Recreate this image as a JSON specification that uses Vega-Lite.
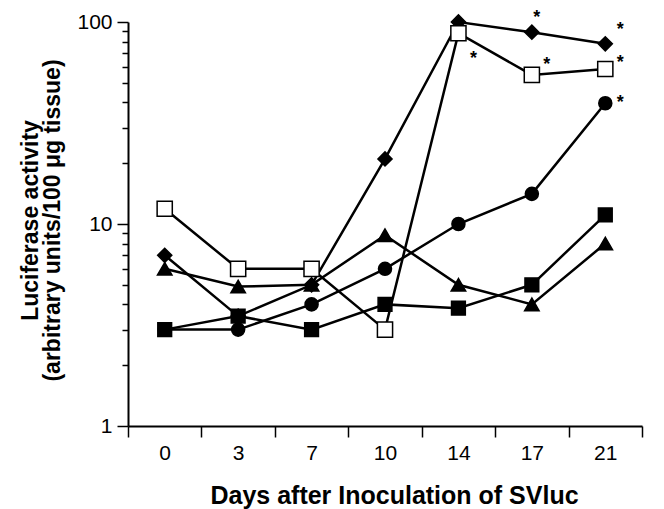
{
  "$schema": "https://vega.github.io/schema/vega-lite/v6.json",
  "width": 514,
  "height": 404,
  "autosize": {"type": "none"},
  "padding": {"left": 128, "top": 22, "right": 22, "bottom": 83},
  "background": "white",
  "config": {"view": {"stroke": null}, "font": "Liberation Sans", "axis": {"labelFontSize": 21, "labelFont": "Liberation Sans", "labelColor": "black"}},
  "datasets": {
    "obs": [
      {"series": "A", "day": 0, "value": 7.0},
      {"series": "A", "day": 3, "value": 3.5},
      {"series": "A", "day": 7, "value": 5.0},
      {"series": "A", "day": 10, "value": 21},
      {"series": "A", "day": 14, "value": 100},
      {"series": "A", "day": 17, "value": 89},
      {"series": "A", "day": 21, "value": 78},
      {"series": "B", "day": 0, "value": 11.9},
      {"series": "B", "day": 3, "value": 6.0},
      {"series": "B", "day": 7, "value": 6.0},
      {"series": "B", "day": 10, "value": 3.0},
      {"series": "B", "day": 14, "value": 88},
      {"series": "B", "day": 17, "value": 54.7},
      {"series": "B", "day": 21, "value": 58.5},
      {"series": "C", "day": 0, "value": 3.0},
      {"series": "C", "day": 3, "value": 3.0},
      {"series": "C", "day": 7, "value": 4.0},
      {"series": "C", "day": 10, "value": 6.0},
      {"series": "C", "day": 14, "value": 10.0},
      {"series": "C", "day": 17, "value": 14.1},
      {"series": "C", "day": 21, "value": 39.6},
      {"series": "D", "day": 0, "value": 3.0},
      {"series": "D", "day": 3, "value": 3.5},
      {"series": "D", "day": 7, "value": 3.0},
      {"series": "D", "day": 10, "value": 4.0},
      {"series": "D", "day": 14, "value": 3.83},
      {"series": "D", "day": 17, "value": 5.0},
      {"series": "D", "day": 21, "value": 11.1},
      {"series": "E", "day": 0, "value": 6.0},
      {"series": "E", "day": 3, "value": 4.9},
      {"series": "E", "day": 7, "value": 5.0},
      {"series": "E", "day": 10, "value": 8.8},
      {"series": "E", "day": 14, "value": 5.0},
      {"series": "E", "day": 17, "value": 4.0},
      {"series": "E", "day": 21, "value": 8.0}
    ],
    "starsNear": [
      {"day": 17, "value": 109.6}
    ],
    "starsRight": [
      {"day": 21, "value": 95.5},
      {"day": 14, "value": 68.6},
      {"day": 17, "value": 64.1},
      {"day": 21, "value": 65.6},
      {"day": 21, "value": 41.6}
    ]
  },
  "encoding": {
    "x": {
      "field": "day",
      "type": "ordinal",
      "scale": {"type": "band", "paddingInner": 0, "paddingOuter": 0, "domain": [0, 3, 7, 10, 14, 17, 21]},
      "axis": {
        "title": "Days after Inoculation of SVluc",
        "titleFontSize": 25,
        "titleFontWeight": "bold",
        "titleColor": "black",
        "titleX": 266,
        "titleY": 77,
        "titleAlign": "center",
        "titleBaseline": "alphabetic",
        "labelAngle": 0,
        "labelFontSize": 21,
        "labelColor": "black",
        "labelPadding": 5,
        "tickBand": "extent",
        "tickSize": 11,
        "tickWidth": 1.5,
        "tickColor": "black",
        "domainColor": "black",
        "domainWidth": 2,
        "grid": false
      }
    },
    "y": {
      "field": "value",
      "type": "quantitative",
      "scale": {"type": "log", "domain": [1, 100], "nice": false},
      "axis": {
        "title": ["Luciferase activity", "(arbitrary units/100 μg tissue)"],
        "titleFontSize": 23,
        "titleFontWeight": "bold",
        "titleColor": "black",
        "titleLineHeight": 22,
        "titleX": -98,
        "titleY": 198,
        "titleAngle": -90,
        "titleAlign": "center",
        "titleBaseline": "middle",
        "values": [1, 2, 3, 4, 5, 6, 7, 8, 9, 10, 20, 30, 40, 50, 60, 70, 80, 90, 100],
        "labelExpr": "indexof([1, 10, 100], datum.value) >= 0 ? datum.label : ''",
        "labelFontSize": 21,
        "labelColor": "black",
        "labelPadding": 5,
        "tickSize": {"condition": {"test": "indexof([1, 10, 100], datum.value) >= 0", "value": 11}, "value": 6},
        "tickWidth": 1.5,
        "tickColor": "black",
        "domainColor": "black",
        "domainWidth": 2,
        "grid": false
      }
    }
  },
  "layer": [
    {
      "data": {"name": "obs"},
      "mark": {"type": "line", "color": "black", "strokeWidth": 2.5},
      "encoding": {"detail": {"field": "series"}}
    },
    {
      "data": {"name": "obs"},
      "mark": {"type": "point", "filled": true, "stroke": "black", "strokeWidth": 1.5, "opacity": 1},
      "encoding": {
        "shape": {
          "field": "series",
          "scale": {"domain": ["A", "B", "C", "D", "E"], "range": ["diamond", "square", "circle", "square", "triangle-up"]},
          "legend": null
        },
        "fill": {
          "field": "series",
          "scale": {"domain": ["A", "B", "C", "D", "E"], "range": ["black", "white", "black", "black", "black"]},
          "legend": null
        },
        "size": {
          "field": "series",
          "scale": {"type": "ordinal", "domain": ["A", "B", "C", "D", "E"], "range": [200, 230, 170, 190, 210]},
          "legend": null
        }
      }
    },
    {
      "data": {"name": "starsNear"},
      "mark": {"type": "text", "text": "*", "fontSize": 18, "fontWeight": "bold", "color": "black", "dx": 5, "dy": 4, "baseline": "middle"}
    },
    {
      "data": {"name": "starsRight"},
      "mark": {"type": "text", "text": "*", "fontSize": 18, "fontWeight": "bold", "color": "black", "dx": 15, "dy": 4, "baseline": "middle"}
    }
  ]
}
